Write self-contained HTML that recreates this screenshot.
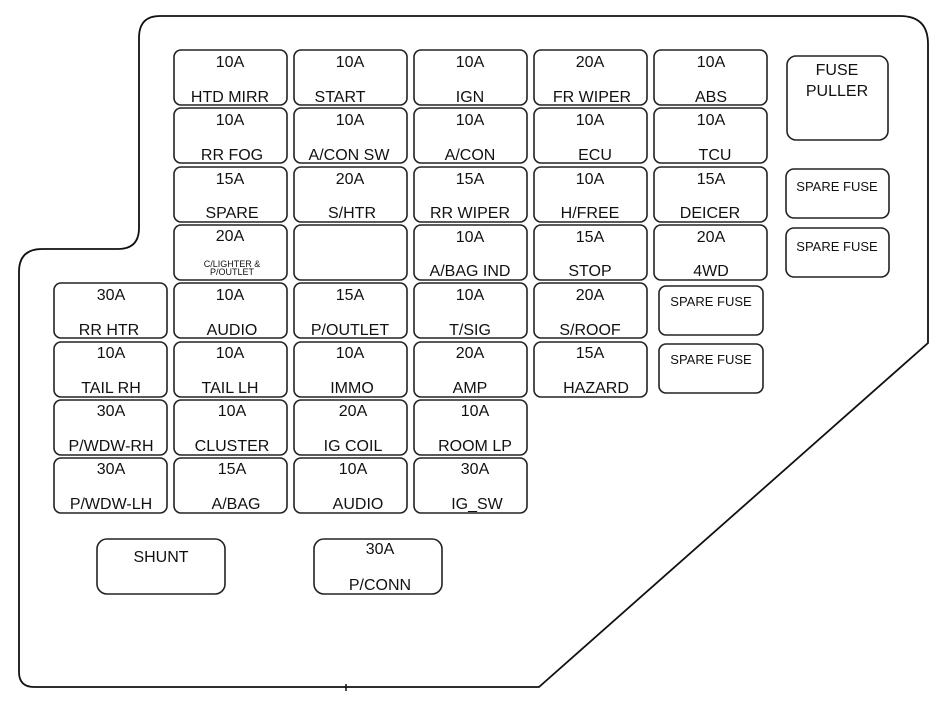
<!DOCTYPE html>
<html><head><meta charset="utf-8"><style>
html,body{margin:0;padding:0;background:#fff;}
svg{display:block;}
text{font-family:"Liberation Sans",Arial,sans-serif;fill:#111;text-anchor:middle;}
.a{font-size:16px;}
.s{font-size:13px;}
rect{fill:#fff;stroke:#222;stroke-width:1.6;}
</style></head><body>
<svg width="942" height="708" viewBox="0 0 942 708" xmlns="http://www.w3.org/2000/svg">
<path d="M160,16 L900,16 Q928,16 928,44 L928,343 L539,687 L34,687 Q19,687 19,672 L19,272 Q19,249 42,249 L118,249 Q139,249 139,228 L139,38 Q139,16 160,16 Z" fill="none" stroke="#111" stroke-width="1.8"/>
<line x1="346" y1="684" x2="346" y2="691" stroke="#111" stroke-width="1.5"/>
<g>
<!-- row 0 -->
<rect x="174" y="50" width="113" height="55" rx="7"/><text class="a" x="230" y="67">10A</text><text class="a" x="230" y="102">HTD MIRR</text>
<rect x="294" y="50" width="113" height="55" rx="7"/><text class="a" x="350" y="67">10A</text><text class="a" x="340" y="102">START</text>
<rect x="414" y="50" width="113" height="55" rx="7"/><text class="a" x="470" y="67">10A</text><text class="a" x="470" y="102">IGN</text>
<rect x="534" y="50" width="113" height="55" rx="7"/><text class="a" x="590" y="67">20A</text><text class="a" x="592" y="102">FR WIPER</text>
<rect x="654" y="50" width="113" height="55" rx="7"/><text class="a" x="711" y="67">10A</text><text class="a" x="711" y="102">ABS</text>
<!-- row 1 -->
<rect x="174" y="108" width="113" height="55" rx="7"/><text class="a" x="230" y="125">10A</text><text class="a" x="232" y="160">RR FOG</text>
<rect x="294" y="108" width="113" height="55" rx="7"/><text class="a" x="350" y="125">10A</text><text class="a" x="349" y="160">A/CON SW</text>
<rect x="414" y="108" width="113" height="55" rx="7"/><text class="a" x="470" y="125">10A</text><text class="a" x="470" y="160">A/CON</text>
<rect x="534" y="108" width="113" height="55" rx="7"/><text class="a" x="590" y="125">10A</text><text class="a" x="595" y="160">ECU</text>
<rect x="654" y="108" width="113" height="55" rx="7"/><text class="a" x="711" y="125">10A</text><text class="a" x="715" y="160">TCU</text>
<!-- row 2 -->
<rect x="174" y="167" width="113" height="55" rx="7"/><text class="a" x="230" y="184">15A</text><text class="a" x="232" y="218">SPARE</text>
<rect x="294" y="167" width="113" height="55" rx="7"/><text class="a" x="350" y="184">20A</text><text class="a" x="352" y="218">S/HTR</text>
<rect x="414" y="167" width="113" height="55" rx="7"/><text class="a" x="470" y="184">15A</text><text class="a" x="470" y="218">RR WIPER</text>
<rect x="534" y="167" width="113" height="55" rx="7"/><text class="a" x="590" y="184">10A</text><text class="a" x="590" y="218">H/FREE</text>
<rect x="654" y="167" width="113" height="55" rx="7"/><text class="a" x="711" y="184">15A</text><text class="a" x="710" y="218">DEICER</text>
<!-- row 3 -->
<rect x="174" y="225" width="113" height="55" rx="7"/><text class="a" x="230" y="241">20A</text><text style="font-size:9px" x="232" y="267">C/LIGHTER &amp;</text><text style="font-size:9px" x="232" y="275">P/OUTLET</text>
<rect x="294" y="225" width="113" height="55" rx="7"/>
<rect x="414" y="225" width="113" height="55" rx="7"/><text class="a" x="470" y="242">10A</text><text class="a" x="470" y="276">A/BAG IND</text>
<rect x="534" y="225" width="113" height="55" rx="7"/><text class="a" x="590" y="242">15A</text><text class="a" x="590" y="276">STOP</text>
<rect x="654" y="225" width="113" height="55" rx="7"/><text class="a" x="711" y="242">20A</text><text class="a" x="711" y="276">4WD</text>
<!-- row 4 -->
<rect x="54" y="283" width="113" height="55" rx="7"/><text class="a" x="111" y="300">30A</text><text class="a" x="109" y="335">RR HTR</text>
<rect x="174" y="283" width="113" height="55" rx="7"/><text class="a" x="230" y="300">10A</text><text class="a" x="232" y="335">AUDIO</text>
<rect x="294" y="283" width="113" height="55" rx="7"/><text class="a" x="350" y="300">15A</text><text class="a" x="350" y="335">P/OUTLET</text>
<rect x="414" y="283" width="113" height="55" rx="7"/><text class="a" x="470" y="300">10A</text><text class="a" x="470" y="335">T/SIG</text>
<rect x="534" y="283" width="113" height="55" rx="7"/><text class="a" x="590" y="300">20A</text><text class="a" x="590" y="335">S/ROOF</text>
<rect x="659" y="286" width="104" height="49" rx="7"/><text class="s" x="711" y="306">SPARE FUSE</text>
<!-- row 5 -->
<rect x="54" y="342" width="113" height="55" rx="7"/><text class="a" x="111" y="358">10A</text><text class="a" x="111" y="393">TAIL  RH</text>
<rect x="174" y="342" width="113" height="55" rx="7"/><text class="a" x="230" y="358">10A</text><text class="a" x="230" y="393">TAIL  LH</text>
<rect x="294" y="342" width="113" height="55" rx="7"/><text class="a" x="350" y="358">10A</text><text class="a" x="352" y="393">IMMO</text>
<rect x="414" y="342" width="113" height="55" rx="7"/><text class="a" x="470" y="358">20A</text><text class="a" x="470" y="393">AMP</text>
<rect x="534" y="342" width="113" height="55" rx="7"/><text class="a" x="590" y="358">15A</text><text class="a" x="596" y="393">HAZARD</text>
<rect x="659" y="344" width="104" height="49" rx="7"/><text class="s" x="711" y="364">SPARE FUSE</text>
<!-- row 6 -->
<rect x="54" y="400" width="113" height="55" rx="7"/><text class="a" x="111" y="416">30A</text><text class="a" x="111" y="451">P/WDW-RH</text>
<rect x="174" y="400" width="113" height="55" rx="7"/><text class="a" x="232" y="416">10A</text><text class="a" x="232" y="451">CLUSTER</text>
<rect x="294" y="400" width="113" height="55" rx="7"/><text class="a" x="353" y="416">20A</text><text class="a" x="353" y="451">IG COIL</text>
<rect x="414" y="400" width="113" height="55" rx="7"/><text class="a" x="475" y="416">10A</text><text class="a" x="475" y="451">ROOM LP</text>
<!-- row 7 -->
<rect x="54" y="458" width="113" height="55" rx="7"/><text class="a" x="111" y="474">30A</text><text class="a" x="111" y="509">P/WDW-LH</text>
<rect x="174" y="458" width="113" height="55" rx="7"/><text class="a" x="232" y="474">15A</text><text class="a" x="236" y="509">A/BAG</text>
<rect x="294" y="458" width="113" height="55" rx="7"/><text class="a" x="353" y="474">10A</text><text class="a" x="358" y="509">AUDIO</text>
<rect x="414" y="458" width="113" height="55" rx="7"/><text class="a" x="475" y="474">30A</text><text class="a" x="477" y="509">IG_SW</text>
<!-- right -->
<rect x="787" y="56" width="101" height="84" rx="9"/><text class="a" x="837" y="75">FUSE</text><text class="a" x="837" y="96">PULLER</text>
<rect x="786" y="169" width="103" height="49" rx="8"/><text class="s" x="837" y="191">SPARE FUSE</text>
<rect x="786" y="228" width="103" height="49" rx="8"/><text class="s" x="837" y="251">SPARE FUSE</text>
<!-- bottom -->
<rect x="97" y="539" width="128" height="55" rx="10"/><text class="a" x="161" y="562">SHUNT</text>
<rect x="314" y="539" width="128" height="55" rx="10"/><text class="a" x="380" y="554">30A</text><text class="a" x="380" y="590">P/CONN</text>
</g>
</svg>
</body></html>
